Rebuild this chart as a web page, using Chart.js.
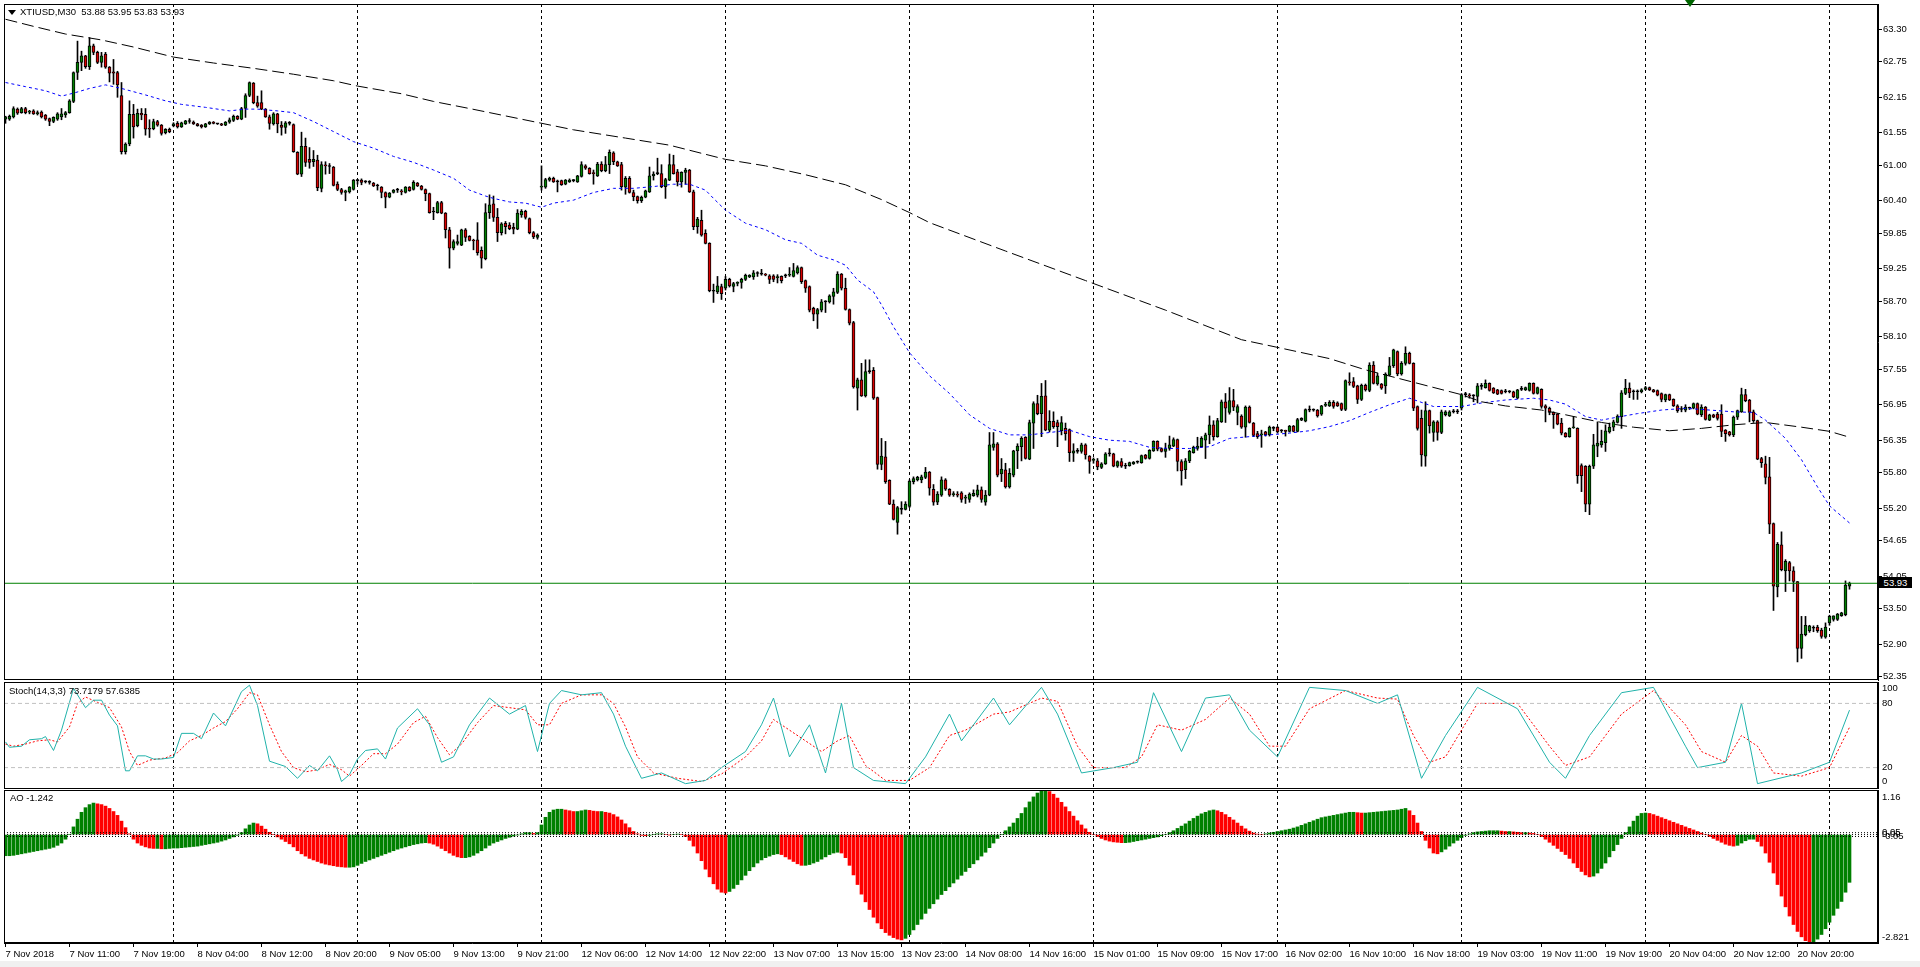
<!DOCTYPE html>
<html><head><meta charset="utf-8">
<script src="https://cdn.jsdelivr.net/npm/chart.js@4.4.0/dist/chart.umd.min.js"></script>
<style>
html,body{margin:0;padding:0;background:#fff;width:1920px;height:967px;overflow:hidden;font-family:Tahoma,"Liberation Sans",Arial,sans-serif;}
canvas{position:absolute;left:0;}
.lbl{position:absolute;font-size:9.5px;color:#000;white-space:pre;line-height:11px;}
#strip{position:absolute;left:0;top:961px;width:1920px;height:6px;background:#f0f0f0;}
#tri{position:absolute;left:8px;top:10px;width:0;height:0;border-left:4px solid transparent;border-right:4px solid transparent;border-top:5px solid #000;}
#arrow{position:absolute;left:1685px;top:0px;width:0;height:0;border-left:5px solid transparent;border-right:5px solid transparent;border-top:7px solid #006400;}
#bid{position:absolute;left:1879px;top:577px;width:33px;height:11px;background:#000;color:#fff;font-size:9.5px;line-height:11px;text-align:center;}
</style></head><body>
<canvas id="cMain" width="1920" height="682" style="top:0px"></canvas>
<canvas id="cStoch" width="1920" height="108" style="top:681px"></canvas>
<canvas id="cAO" width="1920" height="178" style="top:789px"></canvas>
<div id="tri"></div>
<div class="lbl" id="hdr" style="left:20px;top:6px">XTIUSD,M30  53.88 53.95 53.83 53.93</div>
<div class="lbl" id="stochLbl" style="left:9px;top:685px">Stoch(14,3,3) 73.7179 57.6385</div>
<div class="lbl" id="aoLbl" style="left:10px;top:792px">AO -1.242</div>
<div id="bid">53.93</div>
<div id="arrow"></div>
<div id="strip"></div>
<script>
// ---------- DATA ----------
const timeLabels = ["7 Nov 2018","7 Nov 11:00","7 Nov 19:00","8 Nov 04:00","8 Nov 12:00","8 Nov 20:00","9 Nov 05:00","9 Nov 13:00","9 Nov 21:00","12 Nov 06:00","12 Nov 14:00","12 Nov 22:00","13 Nov 07:00","13 Nov 15:00","13 Nov 23:00","14 Nov 08:00","14 Nov 16:00","15 Nov 01:00","15 Nov 09:00","15 Nov 17:00","16 Nov 02:00","16 Nov 10:00","16 Nov 18:00","19 Nov 03:00","19 Nov 11:00","19 Nov 19:00","20 Nov 04:00","20 Nov 12:00","20 Nov 20:00"];
const priceTicks = [63.30,62.75,62.15,61.55,61.00,60.40,59.85,59.25,58.70,58.10,57.55,56.95,56.35,55.80,55.20,54.65,54.05,53.50,52.90,52.35];
const gridBars = [42,88,134,180,226,272,318,364,410,456];
const bidPrice = 53.93;

const opens = [
61.78,61.78,61.82,61.95,61.89,61.96,61.90,61.92,61.87,61.90,
61.85,61.79,61.74,61.78,61.82,61.85,61.89,62.08,62.57,62.74,
62.85,62.67,63.02,62.91,62.74,62.88,62.66,62.58,62.57,62.18,
61.23,61.36,61.86,61.67,61.88,61.86,61.62,61.62,61.74,61.68,
61.55,61.61,61.67,61.71,61.65,61.70,61.74,61.73,61.70,61.68,
61.65,61.70,61.73,61.70,61.70,61.68,61.73,61.76,61.83,61.78,
61.96,62.18,62.39,62.06,62.06,61.95,61.82,61.70,61.87,61.68,
61.64,61.71,61.69,61.22,60.85,61.32,61.10,61.06,61.09,60.61,
61.00,60.98,60.97,60.68,60.59,60.54,60.55,60.59,60.74,60.75,
60.72,60.71,60.70,60.65,60.63,60.54,60.46,60.54,60.58,60.56,
60.54,60.63,60.59,60.70,60.65,60.59,60.52,60.21,60.20,60.37,
60.19,59.91,59.60,59.68,59.65,59.91,59.80,59.73,59.74,59.56,
59.42,60.20,60.35,60.12,59.86,60.02,59.99,59.95,59.92,60.16,
60.22,60.10,59.86,59.78,60.63,60.63,60.75,60.78,60.72,60.74,
60.68,60.72,60.74,60.72,60.81,60.99,60.95,60.87,60.82,61.02,
60.91,61.01,61.21,61.06,61.01,60.63,60.78,60.54,60.47,60.40,
60.46,60.55,60.82,60.86,60.86,60.64,60.75,61.01,60.89,60.72,
60.88,60.92,60.55,59.96,60.07,59.85,59.68,58.87,58.86,58.95,
58.92,59.07,58.95,59.00,59.02,59.07,59.11,59.11,59.17,59.16,
59.16,59.13,59.13,59.10,59.12,59.13,59.14,59.12,59.18,59.27,
59.05,58.95,58.58,58.48,58.55,58.69,58.69,58.78,58.85,59.16,
58.92,58.56,58.34,57.23,57.37,57.10,57.51,57.53,57.07,55.94,
56.07,55.67,55.27,54.96,55.18,55.18,55.23,55.65,55.68,55.68,
55.72,55.81,55.52,55.30,55.42,55.68,55.52,55.43,55.44,55.46,
55.37,55.35,55.41,55.42,55.51,55.30,55.42,56.23,56.29,55.78,
55.85,55.56,55.76,56.17,56.24,56.40,56.03,56.64,56.97,56.80,
57.10,56.52,56.67,56.65,56.51,56.55,56.53,56.13,56.16,56.16,
56.27,56.08,56.01,56.00,55.89,55.95,56.12,56.12,55.91,55.99,
55.91,55.92,55.95,55.98,55.97,56.10,56.04,56.17,56.33,56.21,
56.16,56.21,56.25,56.36,55.99,55.85,56.00,56.14,56.21,56.24,
56.35,56.44,56.61,56.41,56.66,57.00,56.82,57.02,56.82,56.76,
56.57,56.91,56.64,56.46,56.44,56.49,56.44,56.55,56.57,56.51,
56.51,56.50,56.59,56.50,56.69,56.67,56.86,56.86,56.86,56.79,
56.94,56.93,56.99,56.98,56.97,56.87,57.33,57.34,57.27,57.04,
57.28,57.19,57.62,57.30,57.30,57.27,57.45,57.61,57.85,57.47,
57.65,57.82,57.65,56.92,56.72,56.08,56.85,56.48,56.66,56.48,
56.78,56.76,56.83,56.83,56.89,57.12,57.11,57.10,57.09,57.26,
57.24,57.31,57.23,57.20,57.19,57.17,57.17,57.17,57.06,57.21,
57.20,57.19,57.31,57.14,57.21,56.93,56.89,56.82,56.79,56.64,
56.47,56.41,56.56,56.55,55.92,55.91,55.27,55.91,56.25,56.27,
56.31,56.49,56.57,56.65,56.75,57.14,57.23,57.17,57.17,57.17,
57.21,57.24,57.20,57.19,57.14,57.03,57.12,57.04,56.93,56.87,
56.86,56.89,56.89,56.97,56.78,56.91,56.69,56.78,56.79,56.79,
56.52,56.49,56.44,56.74,56.83,57.12,57.03,56.83,56.68,56.04,
55.95,55.73,54.94,53.87,54.58,54.14,54.28,54.14,53.96,52.83,
53.06,53.13,53.17,53.19,53.14,53.02,53.26,53.32,53.32,53.38,
53.40,53.88];

const highs = [
61.83,61.85,61.99,61.97,61.98,61.98,61.93,61.94,61.92,61.92,
61.86,61.80,61.82,61.89,61.96,61.91,62.11,62.58,63.10,62.93,
62.86,63.16,63.05,62.93,62.91,62.91,62.67,62.79,62.59,62.40,
61.38,62.09,62.03,61.95,61.96,61.96,61.77,61.78,61.76,61.69,
61.62,61.63,61.72,61.74,61.73,61.76,61.79,61.75,61.71,61.69,
61.71,61.74,61.74,61.71,61.71,61.74,61.80,61.85,61.84,61.98,
62.21,62.41,62.40,62.17,62.26,61.96,61.85,61.89,61.88,61.74,
61.74,61.74,61.70,61.23,61.56,61.46,61.30,61.25,61.17,61.06,
61.06,61.03,60.98,60.72,60.61,60.58,60.64,60.76,60.76,60.77,
60.74,60.74,60.71,60.68,60.64,60.55,60.54,60.59,60.61,60.59,
60.64,60.64,60.74,60.71,60.66,60.60,60.53,60.29,60.39,60.39,
60.20,59.95,59.74,59.82,59.92,59.93,59.81,59.75,60.03,59.62,
60.35,60.50,60.48,60.27,60.03,60.05,60.03,60.02,60.25,60.25,
60.24,60.11,59.88,59.84,60.99,60.78,60.80,60.80,60.75,60.75,
60.76,60.77,60.76,60.83,61.06,61.01,60.96,60.92,61.05,61.06,
61.15,61.26,61.23,61.07,61.05,60.81,60.81,60.58,60.48,60.48,
60.58,60.97,60.89,61.12,61.01,60.78,61.19,61.17,60.93,60.89,
60.95,60.93,60.58,60.12,60.24,59.91,59.69,58.99,59.12,58.99,
59.12,59.09,59.02,59.03,59.09,59.16,59.15,59.22,59.20,59.24,
59.17,59.15,59.15,59.15,59.13,59.16,59.27,59.34,59.30,59.28,
59.06,58.96,58.60,58.58,58.73,58.71,58.81,58.92,59.20,59.17,
59.09,58.57,58.36,57.40,57.65,57.71,57.71,57.58,57.08,56.38,
56.33,55.68,55.34,55.23,55.31,55.31,55.68,55.73,55.74,55.76,
55.89,55.82,55.60,55.48,55.73,55.70,55.53,55.48,55.48,55.48,
55.42,55.46,55.51,55.59,55.56,55.50,56.48,56.48,56.31,56.04,
55.96,55.87,56.18,56.29,56.41,56.41,56.69,57.00,57.11,57.31,
57.36,56.85,56.83,56.69,56.75,56.64,56.54,56.29,56.21,56.30,
56.29,56.09,56.05,56.04,55.97,56.14,56.21,56.13,56.00,56.04,
55.96,55.98,55.99,56.00,56.10,56.11,56.19,56.34,56.34,56.22,
56.30,56.42,56.39,56.37,56.02,56.04,56.18,56.25,56.40,56.41,
56.47,56.76,56.68,56.72,57.03,57.14,57.24,57.21,56.95,56.78,
56.93,56.93,56.65,56.50,56.52,56.50,56.59,56.58,56.58,56.53,
56.52,56.60,56.60,56.72,56.73,56.88,56.93,56.88,56.87,56.94,
56.99,57.02,57.02,57.00,56.98,57.37,57.49,57.41,57.28,57.30,
57.30,57.66,57.68,57.48,57.31,57.49,57.75,57.89,57.86,57.68,
57.93,57.84,57.66,56.93,56.86,57.00,56.86,56.68,56.68,56.86,
56.85,56.85,56.87,56.87,57.14,57.16,57.14,57.12,57.31,57.31,
57.37,57.32,57.24,57.21,57.20,57.21,57.19,57.18,57.21,57.26,
57.25,57.32,57.32,57.25,57.22,56.95,56.91,56.83,56.80,56.72,
56.48,56.56,56.75,56.56,55.95,55.92,55.93,56.45,56.66,56.52,
56.61,56.64,56.69,56.78,57.19,57.38,57.32,57.20,57.20,57.22,
57.26,57.25,57.21,57.20,57.15,57.13,57.13,57.05,56.95,56.92,
56.95,56.91,56.98,56.98,56.95,56.92,56.79,56.79,56.82,56.95,
56.53,56.50,56.76,56.86,57.23,57.21,57.04,56.86,56.69,56.06,
56.08,56.06,54.95,54.62,54.80,54.33,54.30,54.21,53.96,53.37,
53.37,53.22,53.21,53.22,53.17,53.26,53.39,53.38,53.42,53.44,
53.97,53.95];

const lows = [
61.71,61.76,61.80,61.86,61.88,61.87,61.87,61.86,61.85,61.80,
61.76,61.67,61.72,61.76,61.77,61.81,61.88,62.06,62.45,62.60,
62.64,62.62,62.87,62.72,62.66,62.64,62.41,62.37,62.15,61.19,
61.19,61.33,61.46,61.65,61.77,61.51,61.47,61.60,61.66,61.51,
61.53,61.55,61.65,61.63,61.64,61.69,61.71,61.69,61.66,61.63,
61.64,61.69,61.70,61.69,61.67,61.67,61.71,61.74,61.77,61.77,
61.81,62.16,62.04,61.98,61.94,61.81,61.61,61.68,61.55,61.51,
61.54,61.68,61.22,60.84,60.81,60.98,60.95,60.98,60.57,60.55,
60.85,60.86,60.65,60.57,60.51,60.40,60.53,60.58,60.68,60.67,
60.70,60.68,60.64,60.58,60.45,60.28,60.45,60.53,60.54,60.50,
60.53,60.56,60.58,60.64,60.58,60.40,60.19,60.08,60.19,60.18,
59.77,59.26,59.57,59.65,59.64,59.71,59.72,59.57,59.48,59.26,
59.40,60.10,60.05,59.71,59.82,59.84,59.91,59.84,59.91,60.12,
60.09,59.84,59.76,59.75,60.58,60.61,60.73,60.71,60.55,60.66,
60.67,60.71,60.72,60.71,60.80,60.93,60.85,60.68,60.81,60.89,
60.89,60.86,61.01,60.98,60.58,60.51,60.53,60.40,60.36,60.37,
60.45,60.54,60.75,60.84,60.62,60.44,60.74,60.85,60.65,60.63,
60.68,60.54,59.91,59.85,59.80,59.67,58.86,58.68,58.83,58.73,
58.89,58.94,58.86,58.96,58.92,59.05,59.10,59.07,59.12,59.14,
59.13,59.00,59.03,59.01,59.01,59.10,59.12,59.11,59.16,59.00,
58.85,58.52,58.37,58.24,58.52,58.51,58.67,58.65,58.83,58.89,
58.55,58.30,57.23,56.86,57.09,57.08,57.48,57.04,55.86,55.85,
55.62,55.26,55.00,54.76,55.10,55.17,55.21,55.61,55.66,55.63,
55.70,55.42,55.25,55.26,55.40,55.50,55.40,55.40,55.39,55.30,
55.28,55.30,55.40,55.39,55.30,55.25,55.41,56.18,55.73,55.65,
55.54,55.54,55.73,55.87,56.00,56.03,56.02,56.21,56.78,56.41,
56.51,56.49,56.55,56.24,56.44,56.35,55.99,55.99,56.13,56.13,
56.03,55.79,55.96,55.85,55.87,55.94,56.08,55.90,55.89,55.89,
55.87,55.91,55.94,55.96,55.96,56.03,56.03,56.16,56.17,56.15,
56.06,56.18,56.24,55.83,55.59,55.70,55.97,56.13,56.18,56.23,
56.04,56.29,56.35,56.40,56.65,56.65,56.79,56.85,56.61,56.55,
56.40,56.64,56.41,56.38,56.23,56.42,56.42,56.51,56.47,56.48,
56.42,56.49,56.49,56.49,56.68,56.66,56.83,56.84,56.74,56.77,
56.92,56.92,56.89,56.92,56.85,56.85,57.28,57.24,56.97,57.02,
57.18,57.17,57.30,57.28,57.21,57.14,57.44,57.58,57.44,57.45,
57.62,57.64,56.85,56.52,55.91,55.91,56.47,56.33,56.35,56.46,
56.76,56.75,56.81,56.80,56.86,57.08,57.06,57.00,56.98,57.21,
57.23,57.18,57.14,57.12,57.13,57.15,57.15,57.07,57.05,57.19,
57.19,57.18,57.13,57.13,56.89,56.66,56.78,56.55,56.61,56.44,
56.40,56.40,56.55,55.62,55.48,55.14,55.09,55.87,56.07,56.23,
56.16,56.47,56.51,56.64,56.55,57.12,57.07,57.04,57.04,57.15,
57.20,57.19,57.16,57.10,57.00,57.00,57.02,56.92,56.82,56.83,
56.83,56.87,56.88,56.78,56.75,56.69,56.68,56.73,56.69,56.41,
56.33,56.42,56.41,56.70,56.82,57.00,56.66,56.65,56.02,55.89,
55.61,54.77,53.47,53.70,54.14,53.79,53.97,53.79,52.60,52.66,
53.04,53.10,53.11,53.10,53.00,53.00,53.22,53.29,53.30,53.37,
53.38,53.83];

const closes = [
61.82,61.83,61.96,61.88,61.96,61.89,61.91,61.87,61.89,61.82,
61.78,61.74,61.81,61.87,61.87,61.89,62.09,62.57,62.74,62.85,
62.67,63.02,62.91,62.74,62.85,62.66,62.56,62.56,62.36,61.23,
61.36,61.86,61.65,61.88,61.85,61.61,61.61,61.74,61.68,61.54,
61.61,61.57,61.70,61.65,61.72,61.75,61.74,61.70,61.67,61.65,
61.70,61.73,61.71,61.70,61.68,61.73,61.77,61.83,61.78,61.96,
62.18,62.40,62.06,62.00,61.95,61.82,61.71,61.87,61.70,61.64,
61.72,61.71,61.23,60.85,61.32,61.05,61.05,61.10,60.62,61.01,
60.99,60.98,60.66,60.59,60.54,60.57,60.63,60.75,60.74,60.71,
60.72,60.71,60.65,60.65,60.54,60.46,60.53,60.58,60.58,60.55,
60.63,60.57,60.71,60.65,60.59,60.52,60.20,60.21,60.37,60.19,
59.91,59.60,59.71,59.71,59.91,59.78,59.73,59.72,59.52,59.43,
60.20,60.33,60.12,59.86,60.01,59.96,59.93,59.92,60.19,60.22,
60.12,59.86,59.79,59.82,60.64,60.76,60.78,60.72,60.72,60.67,
60.75,60.75,60.74,60.82,61.01,60.95,60.86,60.86,61.02,60.91,
61.01,61.22,61.06,60.99,60.64,60.78,60.54,60.47,60.40,60.46,
60.57,60.82,60.85,60.86,60.64,60.76,61.01,60.86,60.72,60.88,
60.92,60.55,59.96,60.09,59.82,59.68,58.88,58.87,58.96,58.83,
59.07,58.96,59.00,59.02,59.07,59.14,59.14,59.18,59.17,59.16,
59.14,59.07,59.07,59.11,59.05,59.13,59.15,59.22,59.27,59.03,
58.92,58.55,58.48,58.56,58.69,58.69,58.79,58.86,59.16,58.92,
58.56,58.33,57.25,57.37,57.10,57.51,57.51,57.06,55.94,56.08,
55.65,55.27,55.01,55.21,55.18,55.27,55.66,55.70,55.72,55.73,
55.81,55.54,55.30,55.44,55.68,55.52,55.42,55.44,55.42,55.35,
55.38,55.44,55.45,55.51,55.35,55.42,56.27,56.29,55.76,55.86,
55.56,55.79,56.17,56.25,56.38,56.04,56.65,56.97,56.80,57.09,
56.52,56.67,56.58,56.58,56.65,56.46,56.14,56.17,56.16,56.27,
56.10,55.99,56.02,55.90,55.95,56.12,56.12,55.91,55.99,55.91,
55.91,55.97,55.98,55.98,56.09,56.04,56.18,56.33,56.20,56.16,
56.21,56.27,56.36,55.99,55.83,56.00,56.16,56.23,56.25,56.38,
56.44,56.61,56.41,56.68,57.00,56.89,57.02,56.91,56.92,56.57,
56.91,56.65,56.43,56.41,56.45,56.44,56.57,56.55,56.49,56.51,
56.50,56.59,56.50,56.70,56.72,56.87,56.86,56.86,56.76,56.93,
56.95,56.99,56.92,56.93,56.87,57.36,57.32,57.26,57.04,57.28,
57.20,57.62,57.31,57.44,57.23,57.47,57.61,57.88,57.47,57.65,
57.82,57.65,56.89,56.55,56.10,56.85,56.59,56.66,56.48,56.83,
56.83,56.83,56.83,56.83,57.12,57.12,57.10,57.10,57.27,57.26,
57.31,57.19,57.15,57.13,57.14,57.17,57.17,57.08,57.20,57.21,
57.24,57.31,57.14,57.24,56.92,56.89,56.82,56.78,56.62,56.47,
56.41,56.55,56.57,55.75,55.75,55.27,55.91,56.27,56.30,56.33,
56.51,56.57,56.66,56.76,57.15,57.23,57.15,57.17,57.17,57.20,
57.24,57.20,57.17,57.11,57.04,57.12,57.03,56.93,56.85,56.87,
56.91,56.89,56.97,56.79,56.91,56.70,56.78,56.74,56.72,56.50,
56.46,56.44,56.74,56.85,57.12,57.02,56.82,56.68,56.03,55.97,
55.72,54.93,53.88,54.59,54.16,54.30,54.14,53.96,52.83,53.07,
53.22,53.21,53.17,53.13,53.03,53.19,53.37,53.38,53.41,53.43,
53.90,53.93];

// moving averages read as vertices (bar index, value)
const maFastBars = [0,5,10,14,17,21,25,29,35,40,44,50,56,60,63,68,72,77,82,87,92,97,102,107,112,116,120,122,126,130,134,137,142,147,152,157,162,167,171,175,177,180,185,190,195,199,203,207,210,213,217,219,222,226,231,236,241,246,251,256,261,266,271,276,281,286,291,296,301,306,311,316,321,326,331,336,341,346,351,357,364,369,375,382,386,390,395,399,403,408,414,420,426,432,437,440,445,449,453,456,461];
const maFastVals = [62.40,62.33,62.26,62.17,62.22,62.30,62.36,62.30,62.19,62.09,62.03,61.98,61.92,61.95,61.95,61.92,61.89,61.74,61.57,61.40,61.29,61.15,61.05,60.92,60.78,60.58,60.48,60.44,60.38,60.36,60.29,60.36,60.41,60.54,60.61,60.61,60.64,60.68,60.68,60.58,60.44,60.24,60.02,59.91,59.74,59.68,59.48,59.40,59.31,59.06,58.86,58.64,58.27,57.83,57.44,57.14,56.78,56.55,56.44,56.44,56.48,56.52,56.41,56.35,56.33,56.23,56.21,56.21,56.24,56.38,56.41,56.44,56.47,56.51,56.58,56.68,56.82,56.95,57.06,56.92,56.92,56.98,57.03,57.06,57.03,56.96,56.75,56.69,56.74,56.80,56.86,56.89,56.86,56.83,56.82,56.69,56.38,56.02,55.56,55.24,54.95];
const maSlowBars = [0,7,15,24,32,42,52,62,72,82,88,99,107,116,142,155,166,180,190,200,210,219,226,231,250,270,290,309,318,331,340,348,356,364,369,375,384,390,399,407,416,424,432,440,449,456,461];
const maSlowVals = [63.47,63.35,63.22,63.12,63.00,62.83,62.73,62.64,62.54,62.43,62.34,62.21,62.08,61.96,61.60,61.46,61.34,61.10,60.99,60.84,60.67,60.42,60.20,60.03,59.55,59.05,58.55,58.05,57.92,57.73,57.54,57.40,57.26,57.12,57.00,56.93,56.86,56.78,56.65,56.57,56.51,56.55,56.61,56.65,56.57,56.50,56.40];

// stochastic (vertices)
const stochKBars = [0,1,4,6,9,10,12,14,16,17,20,22,24,26,28,30,31,33,35,37,39,42,44,47,49,52,55,59,61,63,66,70,73,76,78,81,83,84,86,88,90,93,95,98,103,106,109,112,116,121,126,130,133,136,139,144,149,152,155,159,164,170,175,179,185,189,192,196,201,205,209,212,217,225,230,236,239,247,251,259,263,269,277,283,287,294,300,306,311,318,326,335,343,348,354,360,368,378,386,390,396,404,412,420,423,430,434,438,449,456,461];
const stochKVals = [44,39,40,46,47,49,36,55,81,94,76,83,83,69,59,17,17,31,31,28,28,29.5,52,52,47,71,59,91,97,78,26,21,10,22,17,31,18,7,13.5,28,36,37.5,28,57,75,60,25,30,60,85,70,78,35,80,92,88,90,70,40,10,15,5,8,20,35,60,85,30,60,15,80,20,8,5,30,70,45,85,60,95,70,15,20,25,90,35,85,88,55,30,95,92,80,88,10,50,95,75,25,10,50,90,95,40,20,25,80,5,15,25,73.72];
const stochDBars = [0,2,5,8,11,13,16,18,20,23,26,29,31,33,36,40,43,46,49,52,55,58,61,63,66,69,72,75,78,81,84,86,89,92,95,98,102,105,108,111,114,118,122,126,130,133,136,139,144,149,152,155,158,162,168,174,179,185,189,192,196,200,204,208,211,215,220,226,231,236,240,247,251,259,263,268,272,280,284,288,294,300,306,311,316,320,326,335,343,348,352,356,360,368,378,386,390,396,404,412,420,424,430,434,438,442,449,456,461];
const stochDVals = [42,40,42,45,46,44,58,80,86,81,76,58,35,22,27,29,34,45,50,57,63,75,90,88,60,35,20,16,18,23,18,12,22,33,33,42,62,68,48,32,42,62,78,76,74,60,60,80,88,88,80,58,30,15,10,7,14,30,45,65,55,45,35,45,50,22,8,8,20,50,55,70,72,85,82,40,20,20,30,60,55,65,85,70,40,40,75,92,85,84,50,25,30,80,80,40,22,30,70,92,60,35,25,50,40,15,12,20,57.64];
const stochLevels = [80,20];

// Awesome Oscillator, one value per bar
const aoVals = [
-0.55,-0.55,-0.54,-0.52,-0.50,-0.48,-0.46,-0.44,-0.42,-0.40,
-0.38,-0.36,-0.33,-0.28,-0.22,-0.12,0.00,0.20,0.40,0.58,
0.70,0.78,0.82,0.80,0.78,0.74,0.68,0.60,0.50,0.35,
0.18,0.02,-0.12,-0.22,-0.28,-0.32,-0.35,-0.36,-0.36,-0.37,
-0.37,-0.36,-0.35,-0.35,-0.34,-0.33,-0.32,-0.31,-0.30,-0.28,
-0.26,-0.24,-0.22,-0.20,-0.17,-0.14,-0.10,-0.06,-0.02,0.05,
0.15,0.25,0.30,0.28,0.22,0.14,0.06,0.00,-0.06,-0.12,
-0.18,-0.24,-0.32,-0.42,-0.50,-0.56,-0.62,-0.66,-0.70,-0.74,
-0.77,-0.79,-0.81,-0.83,-0.84,-0.85,-0.85,-0.84,-0.80,-0.75,
-0.70,-0.66,-0.62,-0.58,-0.54,-0.50,-0.46,-0.42,-0.38,-0.35,
-0.32,-0.29,-0.26,-0.24,-0.22,-0.21,-0.22,-0.25,-0.30,-0.36,
-0.42,-0.48,-0.54,-0.58,-0.60,-0.60,-0.58,-0.54,-0.48,-0.42,
-0.35,-0.28,-0.22,-0.18,-0.14,-0.10,-0.07,-0.04,-0.01,0.02,
0.05,0.05,0.03,0.05,0.25,0.45,0.58,0.64,0.66,0.66,
0.64,0.62,0.60,0.60,0.62,0.64,0.63,0.61,0.60,0.60,
0.58,0.56,0.52,0.46,0.38,0.28,0.18,0.08,0.02,-0.02,
-0.03,-0.02,0.00,0.02,0.02,0.00,-0.01,0.00,0.01,0.00,
-0.05,-0.15,-0.30,-0.48,-0.68,-0.90,-1.10,-1.28,-1.42,-1.50,
-1.52,-1.48,-1.40,-1.30,-1.18,-1.06,-0.94,-0.84,-0.74,-0.66,
-0.60,-0.56,-0.52,-0.50,-0.52,-0.58,-0.64,-0.70,-0.76,-0.80,
-0.80,-0.78,-0.74,-0.70,-0.64,-0.58,-0.52,-0.48,-0.46,-0.48,
-0.60,-0.80,-1.05,-1.30,-1.55,-1.75,-1.95,-2.15,-2.30,-2.45,
-2.55,-2.62,-2.68,-2.72,-2.74,-2.70,-2.60,-2.48,-2.34,-2.20,
-2.05,-1.92,-1.80,-1.68,-1.56,-1.46,-1.36,-1.26,-1.16,-1.06,
-0.96,-0.86,-0.76,-0.66,-0.56,-0.46,-0.34,-0.22,-0.10,0.00,
0.10,0.20,0.30,0.42,0.55,0.70,0.85,0.98,1.08,1.14,
1.15,1.12,1.05,0.95,0.84,0.72,0.60,0.48,0.36,0.25,
0.15,0.06,0.00,-0.05,-0.10,-0.14,-0.17,-0.19,-0.20,-0.21,
-0.21,-0.20,-0.18,-0.16,-0.14,-0.12,-0.10,-0.08,-0.06,-0.03,
0.00,0.05,0.10,0.16,0.22,0.28,0.35,0.42,0.48,0.54,
0.58,0.62,0.64,0.62,0.58,0.52,0.45,0.38,0.30,0.22,
0.15,0.09,0.04,0.01,0.00,0.02,0.04,0.06,0.08,0.10,
0.12,0.14,0.17,0.20,0.24,0.28,0.32,0.36,0.40,0.44,
0.46,0.48,0.50,0.52,0.54,0.56,0.58,0.58,0.57,0.56,
0.56,0.57,0.58,0.59,0.60,0.61,0.62,0.63,0.64,0.66,
0.68,0.62,0.50,0.30,0.08,-0.15,-0.35,-0.48,-0.50,-0.45,
-0.38,-0.30,-0.22,-0.15,-0.08,-0.02,0.02,0.05,0.07,0.08,
0.09,0.10,0.10,0.10,0.09,0.08,0.08,0.07,0.06,0.05,
0.05,0.04,0.03,0.00,-0.05,-0.12,-0.20,-0.28,-0.36,-0.44,
-0.52,-0.62,-0.74,-0.86,-0.96,-1.05,-1.10,-1.08,-1.00,-0.88,
-0.74,-0.58,-0.42,-0.26,-0.10,0.05,0.20,0.35,0.48,0.55,
0.56,0.55,0.52,0.48,0.44,0.40,0.36,0.32,0.28,0.24,
0.20,0.16,0.12,0.08,0.04,0.00,-0.05,-0.10,-0.15,-0.20,
-0.25,-0.28,-0.30,-0.28,-0.22,-0.16,-0.12,-0.12,-0.18,-0.30,
-0.48,-0.72,-1.00,-1.30,-1.60,-1.88,-2.12,-2.34,-2.52,-2.66,
-2.76,-2.82,-2.80,-2.72,-2.60,-2.45,-2.28,-2.10,-1.92,-1.74,
-1.50,-1.242];
const aoLevels = [0.05,0,-0.05];

// ---------- CHARTS ----------
Chart.defaults.font.family = 'Tahoma, "Liberation Sans", Arial, sans-serif';
Chart.defaults.font.size = 9.5;
Chart.defaults.color = '#000';
const xMin = -0.375, xMax = 468.125;
const UP = '#008000', DOWN = '#d80000';

function noPadV(a, w){ a.width = w; a.paddingTop = 0; a.paddingBottom = 0; }
function noPadH(a, h){ a.height = h; a.paddingLeft = 0; a.paddingRight = 0; }
function baseX(){ return {type:'linear', min:xMin, max:xMax, display:false, offset:false, grid:{offset:false}}; }
function gridX(){ return {type:'linear', position:'bottom', min:xMin, max:xMax, display:true, offset:false,
  afterBuildTicks: a => { a.ticks = gridBars.map(v => ({value:v})); },
  afterFit: a => noPadH(a, 0),
  ticks:{display:false},
  grid:{drawOnChartArea:true, drawTicks:false, color:'#000', lineWidth:1, offset:false},
  border:{display:false, dash:[3,3]} }; }
const framePlugin = { id:'frame', afterDatasetsDraw(chart){ const a = chart.chartArea, c = chart.ctx;
  c.save(); c.setLineDash([]); c.strokeStyle = '#000'; c.lineWidth = 1;
  c.strokeRect(a.left + 0.5, a.top + 0.5, a.right - a.left - 1, a.bottom - a.top - 1); c.restore(); } };
const commonOpts = { responsive:false, animation:false, devicePixelRatio:1,
  plugins:{legend:{display:false}, tooltip:{enabled:false}} };
function levelLine(v, color, dash){ return {type:'line', data:[{x:xMin,y:v},{x:xMax,y:v}], borderColor:color, borderWidth:1, borderDash:dash, pointRadius:0, xAxisID:'x', yAxisID:'y', order:0}; }

// main price chart
new Chart(document.getElementById('cMain'), {
  type:'bar',
  data:{ datasets:[
    {type:'line', data: maSlowBars.map((b,k)=>({x:b,y:maSlowVals[k]})), borderColor:'#000', borderWidth:1, borderDash:[12,5], pointRadius:0, tension:0, xAxisID:'x', yAxisID:'y', order:0},
    {type:'line', data: maFastBars.map((b,k)=>({x:b,y:maFastVals[k]})), borderColor:'#0000ff', borderWidth:1, borderDash:[3,3], pointRadius:0, tension:0, xAxisID:'x', yAxisID:'y', order:0},
    levelLine(bidPrice, '#008000', []),
    {type:'bar', data: opens.map((o,i)=>({x:i, y:[o, closes[i]]})), barThickness:3, grouped:false, minBarLength:1,
      backgroundColor: ctx => { const i = ctx.dataIndex; return closes[i] > opens[i] ? UP : (closes[i] < opens[i] ? DOWN : '#000'); },
      borderColor:'#000', borderWidth:1, borderSkipped:false, xAxisID:'x', yAxisID:'y', order:2},
    {type:'bar', data: lows.map((l,i)=>({x:i, y:[l, highs[i]]})), barThickness:1, grouped:false, backgroundColor:'#000', borderWidth:0, xAxisID:'x', yAxisID:'y', order:3}
  ]},
  options: Object.assign({}, commonOpts, {
    layout:{padding:{left:4, top:4, right:0, bottom:2}},
    scales:{
      x: baseX(), xg: gridX(),
      y:{type:'linear', position:'right', min:52.294, max:63.728, beginAtZero:false,
        afterBuildTicks: a => { a.ticks = priceTicks.map(v => ({value:v})); },
        afterFit: a => noPadV(a, 42),
        ticks:{callback: v => Number(v).toFixed(2), padding:1, autoSkip:false, color:'#000'},
        grid:{drawOnChartArea:false, drawTicks:true, tickLength:4, color:'#000'},
        border:{display:true, color:'#000'}}
    }}),
  plugins:[framePlugin]
});

// stochastic
const stochLabelText = {94:'100', 80:'80', 20:'20', 7.5:'0'};
new Chart(document.getElementById('cStoch'), {
  type:'line',
  data:{ datasets:[
    levelLine(stochLevels[0], '#c0c0c0', [4,3]),
    levelLine(stochLevels[1], '#c0c0c0', [4,3]),
    {type:'line', data: stochDBars.map((b,k)=>({x:b,y:stochDVals[k]})), borderColor:'#ff0000', borderWidth:1, borderDash:[2,2], pointRadius:0, tension:0, xAxisID:'x', yAxisID:'y', order:1},
    {type:'line', data: stochKBars.map((b,k)=>({x:b,y:stochKVals[k]})), borderColor:'#20b2aa', borderWidth:1, pointRadius:0, tension:0, xAxisID:'x', yAxisID:'y', order:0}
  ]},
  options: Object.assign({}, commonOpts, {
    layout:{padding:{left:4, top:1, right:0, bottom:0}},
    scales:{
      x: baseX(), xg: gridX(),
      y:{type:'linear', position:'right', min:0, max:100,
        afterBuildTicks: a => { a.ticks = [94,80,20,7.5].map(v => ({value:v})); },
        afterFit: a => noPadV(a, 42),
        ticks:{callback: v => stochLabelText[v], padding:4, autoSkip:false, color:'#000'},
        grid:{drawOnChartArea:false, drawTicks:false},
        border:{display:true, color:'#000'}}
    }}),
  plugins:[framePlugin]
});

// awesome oscillator
const aoLabelText = {0.98:'1.16', 0.05:'0.05', 0:'0.00', '-0.05':'-0.05', '-2.665':'-2.821'};
new Chart(document.getElementById('cAO'), {
  type:'bar',
  data:{ datasets:[
    levelLine(aoLevels[0], '#000', [1,2]),
    levelLine(aoLevels[1], '#000', [1,2]),
    levelLine(aoLevels[2], '#000', [1,2]),
    {type:'bar', data: aoVals.map((v,i)=>({x:i, y:v})), barThickness:3, grouped:false,
      backgroundColor: ctx => { const i = ctx.dataIndex; return (i > 0 && aoVals[i] < aoVals[i-1]) ? '#ff0000' : '#008000'; },
      borderWidth:0, xAxisID:'x', yAxisID:'y', order:2}
  ]},
  options: Object.assign({}, commonOpts, {
    layout:{padding:{left:4, top:1, right:0, bottom:0}},
    scales:{
      x:{type:'linear', position:'bottom', min:xMin, max:xMax, offset:false,
        afterBuildTicks: a => { a.ticks = timeLabels.map((t,k) => ({value:k*16})); },
        afterFit: a => noPadH(a, 24),
        ticks:{callback: (v, idx) => timeLabels[idx], align:'start', autoSkip:false, maxRotation:0, minRotation:0, padding:2, color:'#000'},
        grid:{drawOnChartArea:false, drawTicks:true, tickLength:4, color:'#000', offset:false},
        border:{display:true, color:'#000'}},
      xg: gridX(),
      y:{type:'linear', position:'right', min:-2.821, max:1.16, beginAtZero:false,
        afterBuildTicks: a => { a.ticks = [0.98,0.05,0,-0.05,-2.665].map(v => ({value:v})); },
        afterFit: a => noPadV(a, 42),
        ticks:{callback: v => aoLabelText[String(v)], padding:4, autoSkip:false, color:'#000'},
        grid:{drawOnChartArea:false, drawTicks:false},
        border:{display:true, color:'#000'}}
    }}),
  plugins:[framePlugin]
});
</script>
</body></html>
